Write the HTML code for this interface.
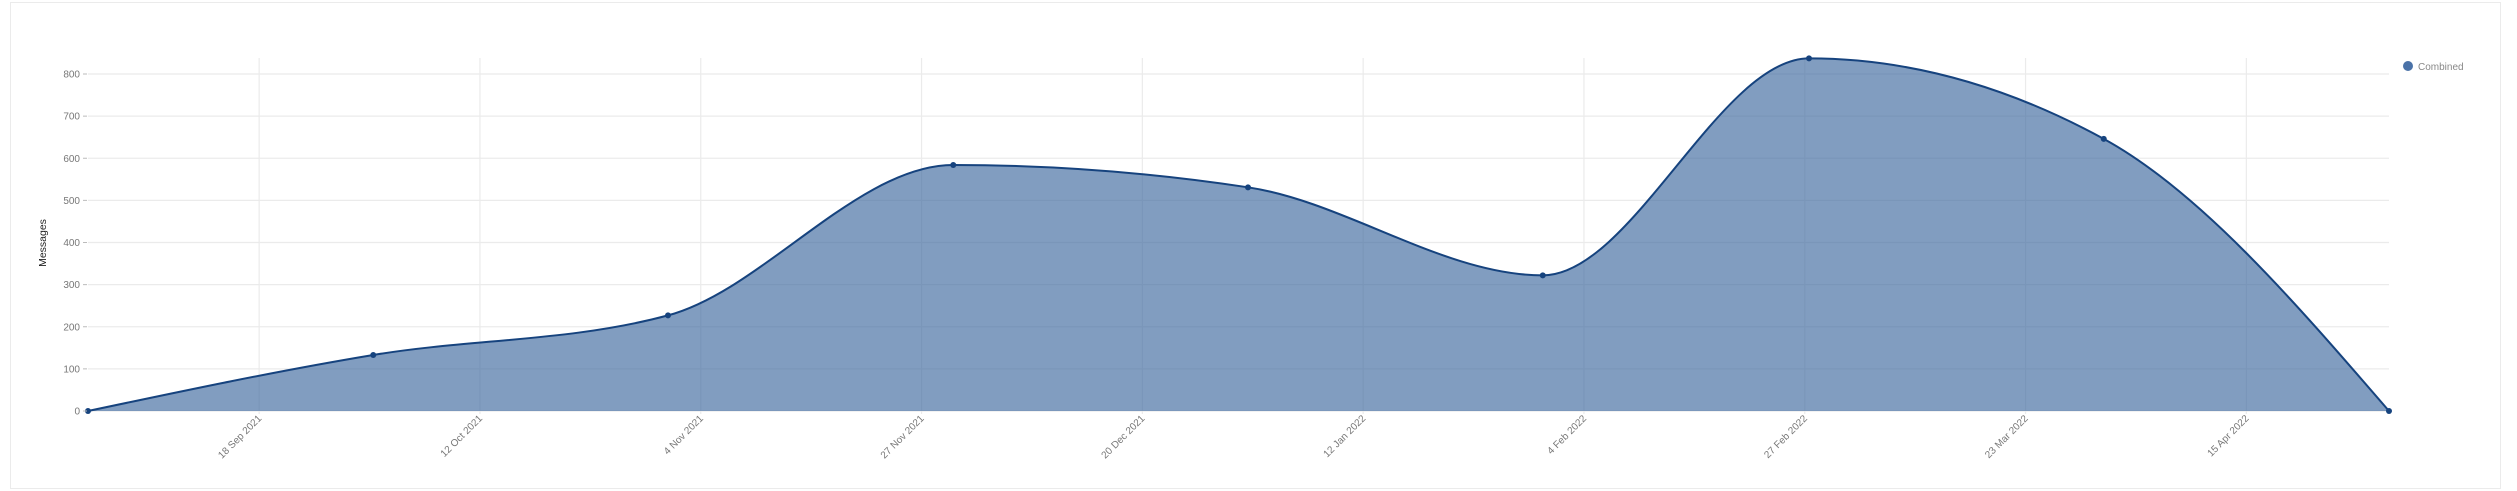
<!DOCTYPE html>
<html><head><meta charset="utf-8"><style>
html,body{margin:0;padding:0;background:#fff;width:2517px;height:491px;overflow:hidden;font-family:"Liberation Sans",sans-serif}
</style></head><body>
<svg id="chart" width="2517" height="491" xmlns="http://www.w3.org/2000/svg">
<rect x="10.5" y="2.5" width="2490" height="486" fill="#fff" stroke="#ebebeb"/>
<g id="grid"></g><g id="area"></g><g id="axes"></g>
<text transform="translate(46,243) rotate(-90)" text-anchor="middle" font-size="10.5" fill="#222">Messages</text>
<g>
<circle cx="2408" cy="66" r="5" fill="#4a72a8"/>
<text x="2418" y="70" font-size="10" fill="#888">Combined</text>
</g>
</svg>
<script>
const dates = ["2021-08-31","2021-09-30","2021-10-31","2021-11-30","2021-12-31","2022-01-31","2022-02-28","2022-03-31","2022-04-30"];
const values = [0,133,227,584,531,322,837,646,0];
const yTicks = [0,100,200,300,400,500,600,700,800];
const xTickDates = ["2021-09-18","2021-10-12","2021-11-04","2021-11-27","2021-12-20","2022-01-12","2022-02-04","2022-02-27","2022-03-23","2022-04-15"];
const xTickLabels = ["18 Sep 2021","12 Oct 2021","4 Nov 2021","27 Nov 2021","20 Dec 2021","12 Jan 2022","4 Feb 2022","27 Feb 2022","23 Mar 2022","15 Apr 2022"];

const NS="http://www.w3.org/2000/svg";
const L=88,R=2389,T=74,B=411;
const t0=Date.parse(dates[0]),t1=Date.parse(dates[dates.length-1]);
function X(d){return L+(Date.parse(d)-t0)/(t1-t0)*(R-L);}
function Y(v){return B-v/800*(B-T);}
function mk(tag,attrs,parent){const e=document.createElementNS(NS,tag);for(const k in attrs)e.setAttribute(k,attrs[k]);parent.appendChild(e);return e;}
const grid=document.getElementById('grid'),axes=document.getElementById('axes'),area=document.getElementById('area');
yTicks.forEach(v=>{
  const g=mk('line',{x1:L,x2:R,y1:Y(v),y2:Y(v),stroke:'#ebebeb','stroke-width':1.2},grid);
  
  
  const tk=mk('line',{x1:L-5,x2:L-1,y1:Y(v),y2:Y(v),stroke:'#bbb'},axes);
  
  
  const t=mk('text',{x:L-8,y:Y(v)+3.5,'text-anchor':'end','font-size':10,fill:'#777'},axes);
  t.textContent=v;
  
  
});
// ticks are evenly spaced (labels are rounded dates)
const xa=X(xTickDates[0]),xb=X(xTickDates[xTickDates.length-1]);
xTickDates.forEach((d,i)=>{
  const x=xa+(xb-xa)*i/(xTickDates.length-1);
  const g=mk('line',{x1:x,x2:x,y1:58,y2:B+3,stroke:'#ebebeb','stroke-width':1.2},grid);
  
  
  const t=mk('text',{transform:`translate(${x+3},${B+8}) rotate(-45)`,'text-anchor':'end','font-size':10,fill:'#777'},axes);
  t.textContent=xTickLabels[i];
  
  
});
// monotone X curve
const px=dates.map(X),py=values.map(Y),n=px.length;
const s=[],m=[];
for(let i=0;i<n-1;i++)s.push((py[i+1]-py[i])/(px[i+1]-px[i]));
for(let i=0;i<n;i++){
  if(i===0)m.push(s[0]);else if(i===n-1)m.push(s[n-2]);
  else{const a=s[i-1],b=s[i];if(a*b<=0)m.push(0);else{const h0=px[i]-px[i-1],h1=px[i+1]-px[i];const p=(a*h1+b*h0)/(h0+h1);m.push((Math.sign(a)+Math.sign(b))*Math.min(Math.abs(a),Math.abs(b),0.5*Math.abs(p)));}}
}
if(n>1){m[0]=(3*s[0]-m[1])/2;m[n-1]=(3*s[n-2]-m[n-2])/2;}
let d=`M${px[0]},${py[0]}`;
for(let i=0;i<n-1;i++){const h=(px[i+1]-px[i])/3;d+=`C${px[i]+h},${py[i]+h*m[i]} ${px[i+1]-h},${py[i+1]-h*m[i+1]} ${px[i+1]},${py[i+1]}`;}
const fill=mk('path',{d:d+`L${px[n-1]},${B}L${px[0]},${B}Z`,fill:'#3f6a9f','fill-opacity':0.66},area);


const line=mk('path',{d:d,fill:'none',stroke:'#16437e','stroke-width':2},area);


for(let i=0;i<n;i++){
  const c=mk('circle',{cx:px[i],cy:py[i],r:3,fill:'#16437e'},area);
  
  
}
</script>
</body></html>
